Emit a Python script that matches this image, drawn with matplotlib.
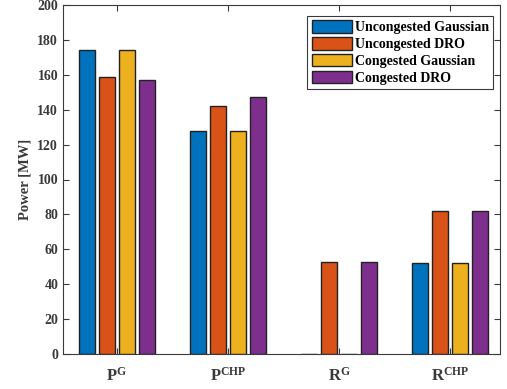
import numpy as np
import matplotlib
matplotlib.use('Agg')
import matplotlib.pyplot as plt

plt.rcParams['font.family'] = ['Liberation Serif', 'DejaVu Serif']
plt.rcParams['mathtext.fontset'] = 'custom'
plt.rcParams['mathtext.rm'] = 'Liberation Serif:bold'
plt.rcParams['mathtext.bf'] = 'Liberation Serif:bold'
plt.rcParams['mathtext.it'] = 'Liberation Serif:bold'

# data
categories = [r'$\mathrm{P}^{\mathrm{G}}$', r'$\mathrm{P}^{\mathrm{CHP}}$',
              r'$\mathrm{R}^{\mathrm{G}}$', r'$\mathrm{R}^{\mathrm{CHP}}$']
series_names = ['Uncongested Gaussian', 'Uncongested DRO', 'Congested Gaussian', 'Congested DRO']
unc_gauss = [174, 128, 0, 52]
unc_dro = [159, 142, 52.5, 82]
con_gauss = [174, 128, 0, 52]
con_dro = [157, 147, 52.5, 82]
values = [unc_gauss, unc_dro, con_gauss, con_dro]
colors = ['#0072BD', '#D95319', '#EDB120', '#7E2F8E']

axcol = '#3a3a3a'

fig = plt.figure(figsize=(5.07, 3.89), dpi=100)
ax = fig.add_axes([63 / 507, 35 / 389, 437 / 507, 349 / 389])

x = np.arange(1, len(categories) + 1)
pitch = 0.18
w = 0.147
for i, vals in enumerate(values):
    ax.bar(x + (i - 1.5) * pitch, vals, width=w, color=colors[i],
           edgecolor='#222222', linewidth=1.0, label=series_names[i], zorder=2)

ax.set_xlim(0.514, 4.45)
ax.set_ylim(0, 200)
ax.set_yticks(np.arange(0, 201, 20))
ax.set_xticks(x)
ax.set_xticklabels(categories, fontsize=12, color=axcol)
ax.set_yticklabels([str(v) for v in range(0, 201, 20)], fontsize=10,
                   fontweight='bold', color=axcol)
ax.tick_params(axis='x', pad=9)
ax.tick_params(direction='in', top=True, right=True, length=4, width=0.8, color=axcol)
for s in ax.spines.values():
    s.set_color(axcol)
    s.set_linewidth(0.8)
ax.set_ylabel('Power [MW]', fontsize=10.5, fontweight='bold', color=axcol, labelpad=4)

leg = ax.legend(loc='upper right', bbox_to_anchor=(0.984, 0.968),
                prop={'size': 10, 'weight': 'bold'},
                frameon=True, fancybox=False, edgecolor=axcol, framealpha=1,
                handlelength=2.9, handleheight=1.0, handletextpad=0.2,
                labelspacing=0.2, borderpad=0.3, borderaxespad=0)
leg.get_frame().set_linewidth(0.8)

fig.savefig('out.png', dpi=100)
